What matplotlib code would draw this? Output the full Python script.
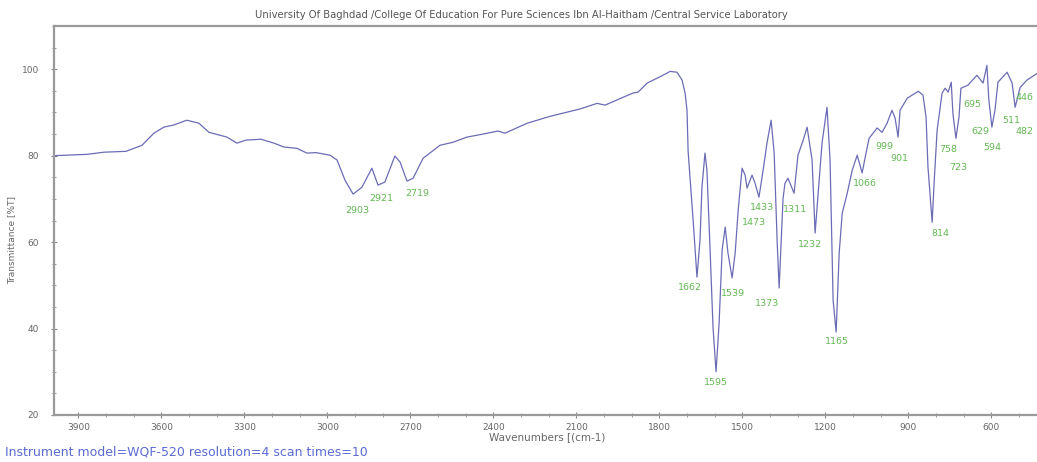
import matplotlib
matplotlib.use("Agg")
import matplotlib.pyplot as plt
from matplotlib.ticker import MultipleLocator

# spectrum: wavenumber (cm-1) and transmittance (%T)
wavenumber = [3988, 3869, 3808, 3728, 3670, 3627, 3591, 3555, 3508, 3464, 3428, 3363,
              3327, 3294, 3240, 3193, 3157, 3110, 3074, 3040, 2990, 2965, 2936, 2907,
              2875, 2839, 2817, 2792, 2756, 2737, 2712, 2690, 2654, 2593, 2546, 2495,
              2437, 2383, 2358, 2278, 2195, 2087, 2025, 1996, 1895, 1877, 1844, 1790,
              1761, 1736, 1718, 1707, 1700, 1696, 1678, 1664, 1653, 1646, 1635, 1628,
              1617, 1606, 1595, 1584, 1573, 1562, 1552, 1537, 1526, 1515, 1501, 1490,
              1483, 1465, 1454, 1440, 1425, 1411, 1396, 1385, 1374, 1367, 1353, 1346,
              1335, 1313, 1299, 1280, 1266, 1248, 1237, 1226, 1212, 1194, 1183, 1172,
              1161, 1150, 1139, 1121, 1103, 1085, 1067, 1053, 1042, 1013, 995, 977,
              959, 948, 937, 930, 904, 864, 847, 836, 829, 818, 814, 807, 796, 778,
              767, 756, 745, 739, 728, 717, 710, 685, 652, 630, 616, 609, 598, 587,
              576, 543, 525, 514, 496, 471, 435]
transmittance = [80.0, 80.3, 80.8, 81.0, 82.4, 85.2, 86.6, 87.1, 88.2, 87.5, 85.4, 84.3,
                 82.9, 83.6, 83.8, 82.9, 82.0, 81.7, 80.6, 80.7, 80.1, 79.0, 74.3, 71.1,
                 72.7, 77.1, 73.2, 73.9, 79.9, 78.5, 74.1, 74.8, 79.4, 82.4, 83.1, 84.3,
                 85.0, 85.7, 85.2, 87.5, 89.1, 90.8, 92.1, 91.7, 94.5, 94.7, 96.8, 98.5,
                 99.5, 99.3, 97.5, 94.5, 90.5, 81.0, 65.1, 51.9, 60.5, 72.7, 80.6, 76.6,
                 58.8, 40.3, 30.0, 41.3, 58.2, 63.5, 57.5, 51.7, 57.5, 67.4, 77.1, 75.5,
                 72.5, 75.5, 73.6, 70.4, 76.6, 82.9, 88.2, 80.6, 59.8, 49.4, 70.0, 73.6,
                 74.8, 71.3, 80.1, 83.6, 86.6, 79.0, 62.1, 71.3, 82.9, 91.2, 79.0, 46.6,
                 39.2, 57.5, 66.7, 71.3, 76.6, 80.1, 76.0, 80.6, 84.0, 86.4, 85.4, 87.5,
                 90.5, 88.7, 84.3, 90.5, 93.3, 94.9, 94.0, 88.9, 77.3, 68.1, 64.6, 73.6, 85.9, 94.5,
                 95.6, 94.7, 97.0, 89.8, 84.0, 88.9, 95.6, 96.3, 98.6, 96.8, 100.9, 92.8, 86.6, 90.5,
                 97.0, 99.3, 96.8, 91.2, 95.8, 97.5, 99.0]

# peak labels as printed by the instrument software
peak_labels = ["2903", "2921", "2719", "1662", "1595", "1539", "1473", "1433", "1373",
               "1311", "1232", "1165", "1066", "999", "901", "814", "758", "723",
               "695", "629", "594", "511", "446", "482"]
# where each label sits (wavenumber, %T)
label_x = [2893, 2806, 2676, 1689, 1595, 1534, 1458, 1429, 1411, 1309, 1255, 1158,
           1056, 988, 933, 785, 756, 720, 670, 641, 597, 529, 480, 480]
label_y = [67.4, 70.2, 71.3, 49.6, 27.6, 48.2, 64.6, 68.1, 45.7, 67.6, 59.5, 37.1,
           73.6, 82.2, 79.4, 62.1, 81.5, 77.3, 91.9, 85.7, 82.0, 88.2, 93.5, 85.6]

plt.rcParams["font.family"] = ["DejaVu Sans"]

fig = plt.figure(figsize=(10.37, 4.62), dpi=100)
ax = fig.add_axes([54 / 1037, 47 / 462, 1 - 54 / 1037, 389 / 462])

ax.plot(wavenumber, transmittance, color="#5252aa", lw=0.9, alpha=0.85)
for txt, x, y in zip(peak_labels, label_x, label_y):
    ax.text(x, y, txt, color="#62b952", fontsize=6.8, ha="center", va="center", clip_on=False)

ax.set_xlim(3988, 435)
ax.set_ylim(20, 110)
ax.xaxis.set_minor_locator(MultipleLocator(100))
ax.yaxis.set_major_locator(MultipleLocator(20))
ax.yaxis.set_minor_locator(MultipleLocator(5))
ax.set_xticks(range(3900, 500, -300))
ax.tick_params(axis="both", which="major", labelsize=6.5, colors="#888888", labelcolor="#666666",
               direction="inout", length=4, width=0.8)
ax.tick_params(axis="both", which="minor", colors="#888888", direction="inout", length=3, width=0.6)
ax.tick_params(axis="y", pad=9)
ax.tick_params(axis="x", pad=4)

for side in ["left", "top", "bottom"]:
    ax.spines[side].set_color("#9a9a9a")
    ax.spines[side].set_linewidth(1.6)
ax.spines["right"].set_visible(False)

fig.text(521 / 1037, 1 - 15 / 462,
         "University Of Baghdad /College Of Education For Pure Sciences Ibn Al-Haitham /Central Service Laboratory",
         ha="center", va="center", fontsize=7.2, color="#555555")
fig.text(12 / 1037, 1 - 240 / 462, "Transmittance [%T]", rotation=90, ha="center", va="center",
         fontsize=6.5, color="#666666")
fig.text(547 / 1037, 1 - 437 / 462, "Wavenumbers [(cm-1)", ha="center", va="center",
         fontsize=7.5, color="#666666")
fig.text(5 / 1037, 1 - 452 / 462, "Instrument model=WQF-520 resolution=4 scan times=10",
         ha="left", va="center", fontsize=9, color="#5a6ad4")

fig.savefig("out.png", dpi=100)
